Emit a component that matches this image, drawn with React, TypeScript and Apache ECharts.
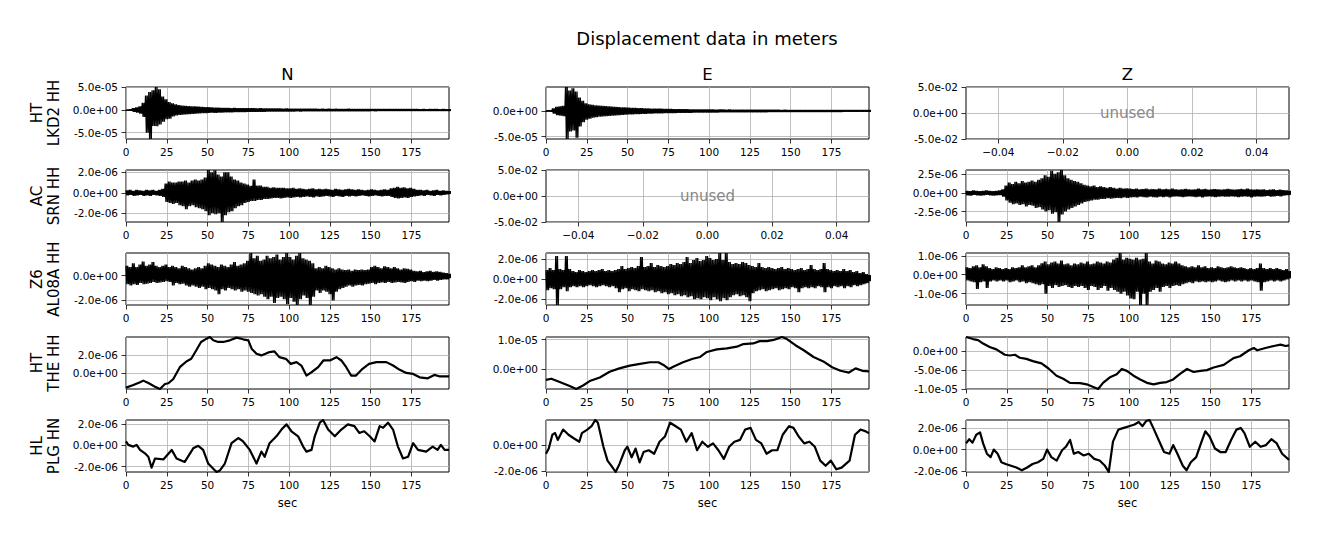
import React, { useEffect, useRef } from "react";
import * as echarts from "echarts";

// ---------------- texts ----------------
const FIG_TITLE = "Displacement data in meters";
const COLUMN_TITLES = ["N", "E", "Z"];
const ROW_LABELS = ["HT\nLKD2 HH", "AC\nSRN HH", "Z6\nAL08A HH", "HT\nTHE HH", "HL\nPLG HN"];
const X_LABEL = "sec";
const UNUSED_TEXT = "unused";

// ---------------- axes ----------------
const SEC_TICKS = [0, 25, 50, 75, 100, 125, 150, 175];
const SEC_MAX = 198;
const UNUSED_X_TICKS = [-0.04, -0.02, 0, 0.02, 0.04];
const UNUSED_Y_TICKS = [-0.05, 0, 0.05];
const UNUSED_LIMIT = 0.05;
const TICKS_5E5 = [-5e-5, 0, 5e-5];
const TICKS_2E6 = [-4e-6, -2e-6, 0, 2e-6, 4e-6];
const TICKS_25E7 = [-2.5e-6, 0, 2.5e-6];
const TICKS_1E6 = [-1e-6, 0, 1e-6];
const TICKS_1E5 = [-1e-5, 0, 1e-5];
const TICKS_5E6 = [-1e-5, -5e-6, 0, 5e-6];

// ---------------- data (micrometres) ----------------
const MICRO = 1e-6;
// noisy traces: upper / lower envelope read every 2 s; the trace swings between them
const ENV_STEP = 2;
const SWINGS_PER_STEP = 2;

const LKD2_N_UP = [1, 1.5, 4, 6, 8, 16, 32, 40, 44, 51,
  46, 30, 24, 18, 15, 13, 11, 10, 9.5, 9,
  8.5, 8, 7.5, 7, 6.5, 6.5, 6, 5.5, 5.5, 5,
  5, 5, 4.5, 4.8, 4.5, 4.2, 4.5, 4, 4.2, 4,
  3.8, 4, 3.6, 3.8, 3.5, 3.6, 3.4, 3.5, 3.2, 3.4,
  3.2, 3, 3.2, 3, 2.9, 3, 2.8, 3, 2.8, 2.7,
  2.8, 2.6, 2.8, 2.6, 2.7, 2.5, 2.6, 2.5, 2.7, 2.5,
  2.4, 2.6, 2.4, 2.5, 2.3, 2.5, 2.4, 2.3, 2.4, 2.3,
  2.2, 2.4, 2.2, 2.3, 2.2, 2.1, 2.3, 2.1, 2.2, 2.1,
  2, 2.2, 2, 2.1, 2, 2.1, 1.9, 2, 1.9, 1.8];
const LKD2_N_LO = [-1, -1.5, -4, -6, -8, -15, -50, -64, -35, -36,
  -32, -26, -20, -19, -14, -12, -11, -10, -9.5, -9,
  -8.5, -8, -7.5, -7, -7, -6.5, -6, -6, -5.5, -5.5,
  -5, -5, -5, -4.6, -4.8, -4.4, -4.5, -4.2, -4.2, -4,
  -4, -3.8, -3.8, -3.6, -3.6, -3.5, -3.4, -3.5, -3.3, -3.2,
  -3.2, -3.1, -3, -3.1, -2.9, -3, -2.9, -2.8, -2.9, -2.7,
  -2.7, -2.8, -2.6, -2.7, -2.6, -2.6, -2.5, -2.6, -2.5, -2.5,
  -2.5, -2.4, -2.5, -2.4, -2.4, -2.3, -2.4, -2.3, -2.3, -2.3,
  -2.2, -2.2, -2.3, -2.2, -2.1, -2.2, -2.1, -2.2, -2.1, -2,
  -2.1, -2, -2, -2.1, -1.9, -2, -1.9, -1.9, -1.8, -1.8];

const LKD2_E_UP = [1, 1.5, 5, 8, 9, 10, 46.7, 40, 44, 38,
  26, 20, 15, 13, 12, 11, 10.5, 10, 9.5, 9,
  8.5, 8, 7.5, 7.2, 7, 6.5, 6.2, 6, 5.6, 5.5,
  5.2, 5, 4.8, 4.6, 4.5, 4.4, 4.2, 4, 3.9, 3.8,
  3.7, 3.6, 3.5, 3.5, 3.3, 3.3, 3.2, 3.1, 3, 3,
  3, 2.9, 2.8, 2.9, 2.8, 2.7, 2.8, 2.6, 2.7, 2.6,
  2.6, 2.5, 2.6, 2.5, 2.4, 2.5, 2.4, 2.4, 2.3, 2.4,
  2.3, 2.3, 2.2, 2.3, 2.2, 2.2, 2.1, 2.2, 2.1, 2.1,
  2, 2.1, 2, 2, 2, 1.9, 2, 1.9, 1.9, 1.8,
  1.9, 1.8, 1.8, 1.8, 1.7, 1.8, 1.7, 1.7, 1.6, 1.6];
const LKD2_E_LO = [-1, -1.5, -5, -8, -9, -10, -54.5, -40, -38, -52,
  -30, -22, -17, -15, -13, -12, -11, -10.5, -10, -9.5,
  -9, -8.5, -8, -7.5, -7, -6.8, -6.5, -6.2, -6, -5.8,
  -5.5, -5.2, -5, -4.8, -4.6, -4.5, -4.3, -4.2, -4, -3.9,
  -3.8, -3.7, -3.6, -3.5, -3.4, -3.3, -3.2, -3.2, -3.1, -3,
  -3, -2.9, -2.9, -2.8, -2.8, -2.7, -2.7, -2.6, -2.6, -2.5,
  -2.5, -2.5, -2.4, -2.4, -2.4, -2.3, -2.3, -2.3, -2.2, -2.2,
  -2.2, -2.2, -2.1, -2.1, -2.1, -2, -2, -2, -2, -1.9,
  -1.9, -1.9, -1.9, -1.8, -1.8, -1.8, -1.8, -1.7, -1.7, -1.7,
  -1.7, -1.6, -1.6, -1.6, -1.6, -1.5, -1.5, -1.5, -1.5, -1.4];

const SRN_N_UP = [0.25, 0.3, 0.2, 0.3, 0.25, 0.2, 0.3, 0.25, 0.3, 0.2,
  0.3, 0.4, 0.9, 1.1, 1.0, 1.0, 1.1, 1.1, 1.2, 1.0,
  1.2, 1.3, 1.2, 1.3, 1.5, 2.23, 2.0, 2.2, 1.8, 1.6,
  2.0, 2.0, 1.6, 1.3, 1.2, 1.0, 0.9, 0.8, 0.7, 1.3,
  0.7, 0.7, 0.6, 0.6, 0.5, 0.55, 0.5, 0.5, 0.5, 0.45,
  0.45, 0.5, 0.4, 0.45, 0.4, 0.35, 0.4, 0.45, 0.35, 0.4,
  0.35, 0.4, 0.35, 0.3, 0.4, 0.35, 0.3, 0.35, 0.4, 0.35,
  0.3, 0.35, 0.3, 0.25, 0.3, 0.35, 0.3, 0.25, 0.3, 0.35,
  0.3, 0.45, 0.5, 0.6, 0.5, 0.55, 0.45, 0.5, 0.4, 0.3,
  0.3, 0.25, 0.3, 0.2, 0.25, 0.3, 0.2, 0.25, 0.2, 0.15];
const SRN_N_LO = [-0.25, -0.2, -0.3, -0.25, -0.2, -0.3, -0.25, -0.3, -0.2, -0.25,
  -0.3, -0.4, -0.9, -1.0, -1.1, -1.0, -1.2, -1.3, -1.6, -1.3,
  -1.2, -1.4, -1.5, -1.6, -1.8, -2.2, -2.0, -2.1, -2.0, -2.85,
  -2.2, -1.9, -1.8, -1.5, -1.3, -1.2, -1.0, -0.9, -0.8, -0.8,
  -0.7, -0.7, -0.6, -0.6, -0.55, -0.5, -0.5, -0.55, -0.5, -0.45,
  -0.5, -0.45, -0.4, -0.45, -0.4, -0.35, -0.4, -0.45, -0.35, -0.4,
  -0.35, -0.3, -0.35, -0.4, -0.3, -0.35, -0.4, -0.3, -0.35, -0.3,
  -0.35, -0.3, -0.25, -0.3, -0.35, -0.3, -0.25, -0.3, -0.35, -0.3,
  -0.3, -0.4, -0.5, -0.55, -0.5, -0.45, -0.5, -0.4, -0.35, -0.3,
  -0.25, -0.3, -0.2, -0.25, -0.3, -0.2, -0.25, -0.2, -0.15, -0.1];

const SRN_Z_UP = [0.3, 0.25, 0.35, 0.3, 0.25, 0.3, 0.35, 0.3, 0.25, 0.3,
  0.35, 0.5, 1.0, 1.4, 1.2, 1.5, 1.3, 1.6, 1.4, 1.5,
  1.7, 1.5, 1.8, 2.0, 2.4, 2.2, 3.0, 2.6, 2.8, 3.1,
  2.4, 2.0, 1.8, 1.6, 1.5, 1.3, 1.1, 1.0, 0.9, 1.0,
  0.8, 0.9, 0.8, 0.7, 0.8, 0.7, 0.6, 0.7, 0.6, 0.65,
  0.6, 0.55, 0.6, 0.5, 0.55, 0.6, 0.5, 0.55, 0.5, 0.6,
  0.5, 0.55, 0.5, 0.6, 0.5, 0.45, 0.5, 0.55, 0.5, 0.45,
  0.5, 0.6, 0.5, 0.55, 0.45, 0.5, 0.55, 0.5, 0.45, 0.5,
  0.55, 0.5, 0.45, 0.5, 0.55, 0.5, 0.6, 0.5, 0.45, 0.5,
  0.45, 0.5, 0.4, 0.45, 0.5, 0.4, 0.45, 0.4, 0.35, 0.3];
const SRN_Z_LO = [-0.3, -0.35, -0.25, -0.3, -0.35, -0.3, -0.25, -0.3, -0.35, -0.3,
  -0.3, -0.5, -1.0, -1.3, -1.5, -1.4, -1.6, -1.5, -1.8, -1.6,
  -1.7, -2.0, -1.9, -2.2, -2.5, -2.3, -2.8, -2.6, -3.9, -2.9,
  -2.5, -2.2, -2.0, -1.8, -1.6, -1.4, -1.2, -1.1, -1.0, -0.9,
  -0.9, -0.8, -0.8, -0.7, -0.75, -0.7, -0.65, -0.7, -0.6, -0.65,
  -0.6, -0.55, -0.6, -0.5, -0.55, -0.6, -0.5, -0.55, -0.6, -0.5,
  -0.55, -0.5, -0.6, -0.5, -0.45, -0.5, -0.55, -0.5, -0.45, -0.5,
  -0.55, -0.5, -0.6, -0.5, -0.45, -0.5, -0.55, -0.5, -0.45, -0.5,
  -0.5, -0.45, -0.5, -0.55, -0.5, -0.45, -0.5, -0.6, -0.5, -0.45,
  -0.5, -0.45, -0.4, -0.5, -0.45, -0.4, -0.45, -0.35, -0.3, -0.25];

const AL08A_N_UP = [0.8, 0.7, 1.0, 0.7, 0.9, 1.15, 0.8, 0.9, 1.1, 0.8,
  0.7, 0.8, 0.9, 0.7, 0.8, 0.7, 0.6, 0.8, 0.7, 0.6,
  0.5, 0.6, 0.7, 0.6, 0.8, 1.0, 0.9, 0.8, 0.7, 0.9,
  0.8, 0.7, 0.9, 1.1, 0.8, 0.9, 1.0, 1.2, 1.83, 1.4,
  1.6, 1.2, 1.3, 1.6, 1.4, 1.5, 1.7, 1.3, 1.5, 1.83,
  1.5, 1.3, 1.6, 1.83, 1.4, 1.3, 1.2, 1.0, 0.6, 0.7,
  0.6, 0.8, 0.7, 0.6, 0.5, 0.6, 0.5, 0.45, 0.5, 0.4,
  0.5, 0.45, 0.5, 0.45, 0.5, 0.7, 0.8, 0.7, 0.6, 0.75,
  0.7, 0.6, 0.7, 0.6, 0.5, 0.6, 0.55, 0.5, 0.4, 0.35,
  0.4, 0.3, 0.35, 0.4, 0.3, 0.35, 0.3, 0.25, 0.2, 0.15];
const AL08A_N_LO = [-0.7, -0.8, -0.7, -0.75, -0.6, -0.7, -0.65, -0.6, -0.5, -0.6,
  -0.55, -0.5, -0.45, -0.5, -0.8, -0.6, -0.7, -0.65, -0.8, -0.9,
  -0.8, -0.9, -1.0, -0.9, -1.1, -1.0, -1.1, -1.2, -1.5, -1.1,
  -1.2, -1.0, -1.1, -1.2, -1.1, -1.3, -1.2, -1.3, -1.4, -1.5,
  -1.6, -1.5, -1.7, -1.9, -1.7, -2.2, -1.8, -1.7, -1.9, -2.3,
  -1.8, -2.1, -2.37, -1.9, -1.6, -1.8, -2.37, -1.7, -1.2, -1.4,
  -1.2, -1.3, -1.5, -2.0, -1.3, -1.1, -1.0, -0.9, -0.8, -0.9,
  -0.8, -0.75, -0.8, -0.7, -0.65, -0.6, -0.7, -0.6, -0.55, -0.6,
  -0.5, -0.6, -0.55, -0.5, -0.55, -0.6, -0.5, -0.45, -0.5, -0.4,
  -0.45, -0.4, -0.45, -0.4, -0.35, -0.4, -0.35, -0.3, -0.3, -0.2];

const AL08A_E_UP = [0.9, 1.1, 0.9, 2.3, 1.0, 0.9, 2.3, 1.0, 0.8, 0.7,
  0.9, 0.8, 0.7, 0.8, 0.9, 0.8, 0.9, 1.0, 0.8, 0.9,
  0.8, 0.9, 1.0, 1.3, 1.0, 1.1, 1.2, 1.1, 1.3, 2.2,
  1.2, 1.3, 1.6, 1.2, 1.4, 1.3, 1.2, 1.3, 1.5, 1.4,
  1.6, 1.5, 1.7, 2.2, 1.6, 1.9, 2.1, 1.8, 1.9, 2.3,
  2.1, 1.9, 2.0, 2.6, 1.9, 2.6, 1.7, 1.5, 1.6, 1.5,
  1.7, 1.6, 1.4, 1.3, 1.2, 1.6, 1.2, 1.1, 1.2, 1.1,
  1.0, 1.1, 1.2, 1.0, 1.1, 1.0, 0.9, 1.0, 1.1, 0.9,
  1.0, 1.4, 1.0, 0.9, 1.0, 1.6, 1.0, 0.9, 0.8, 0.9,
  0.8, 1.0, 0.8, 0.9, 0.7, 0.8, 0.6, 0.7, 0.5, 0.4];
const AL08A_E_LO = [-1.1, -0.9, -1.0, -2.57, -1.0, -0.8, -1.2, -0.8, -0.7, -0.8,
  -0.7, -0.8, -0.7, -0.6, -0.7, -0.8, -0.7, -0.6, -0.7, -0.8,
  -0.7, -0.9, -1.3, -1.0, -0.9, -1.2, -1.0, -1.1, -1.2, -1.0,
  -1.1, -1.2, -1.1, -1.3, -1.2, -1.4, -1.3, -1.5, -1.4, -1.6,
  -1.5, -1.7, -1.6, -1.8, -1.7, -2.0, -1.9, -2.0, -1.8, -1.9,
  -2.1, -1.8, -2.0, -2.2, -1.9, -2.1, -1.8, -1.6, -1.5, -1.7,
  -1.6, -1.8, -2.2, -1.4, -1.2, -1.1, -1.0, -1.2, -1.1, -1.0,
  -0.9, -1.1, -1.0, -0.9, -1.0, -0.8, -0.9, -1.3, -0.9, -0.8,
  -0.9, -0.8, -0.9, -0.7, -0.8, -1.3, -0.8, -0.9, -0.7, -0.8,
  -0.7, -0.9, -0.7, -0.8, -0.6, -0.7, -0.6, -0.5, -0.4, -0.2];

const AL08A_Z_UP = [0.4, 0.35, 0.45, 0.5, 0.4, 0.55, 0.45, 0.35, 0.3, 0.4,
  0.35, 0.3, 0.35, 0.3, 0.4, 0.35, 0.4, 0.5, 0.4, 0.45,
  0.5, 0.4, 0.5, 0.6, 0.7, 0.55, 0.65, 0.7, 0.6, 0.75,
  0.55, 0.6, 0.5, 0.6, 0.55, 0.65, 0.6, 0.7, 0.55, 0.6,
  0.7, 0.65, 0.6, 0.7, 0.65, 0.8, 0.9, 1.15, 0.8, 0.9,
  0.85, 0.8, 0.9, 0.8, 0.85, 1.15, 0.7, 0.6, 0.75, 0.7,
  0.6, 0.55, 0.65, 0.6, 0.7, 0.6, 0.5, 0.45, 0.4, 0.45,
  0.4, 0.5, 0.4, 0.45, 0.35, 0.4, 0.35, 0.45, 0.4, 0.35,
  0.4, 0.45, 0.4, 0.35, 0.4, 0.35, 0.3, 0.35, 0.3, 0.35,
  0.6, 0.35, 0.3, 0.35, 0.3, 0.35, 0.3, 0.25, 0.3, 0.2];
const AL08A_Z_LO = [-0.3, -0.35, -0.4, -0.75, -0.4, -0.35, -0.7, -0.35, -0.3, -0.35,
  -0.3, -0.35, -0.3, -0.4, -0.35, -0.3, -0.4, -0.35, -0.45, -0.4,
  -0.45, -0.5, -0.55, -0.5, -1.0, -0.6, -0.7, -0.55, -0.65, -0.6,
  -0.55, -0.65, -0.7, -0.6, -0.65, -0.6, -0.7, -0.8, -0.6, -0.65,
  -0.8, -0.7, -0.6, -0.85, -0.7, -0.8, -0.9, -1.0, -0.9, -1.1,
  -1.25, -1.3, -0.9, -1.6, -1.0, -1.6, -0.9, -0.8, -0.7, -0.9,
  -0.65, -0.6, -0.7, -0.6, -0.55, -0.6, -0.5, -0.45, -0.4, -0.45,
  -0.35, -0.4, -0.35, -0.4, -0.35, -0.4, -0.35, -0.3, -0.35, -0.4,
  -0.35, -0.3, -0.35, -0.3, -0.35, -0.3, -0.35, -0.3, -0.35, -0.4,
  -0.85, -0.4, -0.35, -0.3, -0.35, -0.3, -0.35, -0.3, -0.25, -0.2];

// slow traces: time (s) / displacement (micrometres)
const THE_N_T = [0, 4.5, 8.6, 10.6, 13.7, 17.8, 20.8, 23.9, 26, 29, 33, 37, 40, 43, 46, 49.4, 51.4, 53.5, 56.5, 59.6, 63.7, 67.8, 71.8, 75, 77, 80, 83, 88, 91, 94, 98, 101, 104.5, 107.5, 110.6, 113.7, 117.8, 121, 125, 129, 132, 135, 138, 141, 145, 149, 153.5, 159.6, 163.7, 167.8, 171.8, 176, 180, 185, 189, 192, 198];
const THE_N_V = [-1.55, -1.27, -0.97, -0.79, -1.05, -1.45, -1.7, -1.16, -1.08, -0.61, 0.67, 1.29, 1.58, 2.49, 3.41, 3.77, 3.95, 3.59, 3.41, 3.41, 3.59, 3.88, 3.7, 3.59, 2.68, 2.13, 1.95, 2.31, 2.38, 1.76, 1.58, 1.03, 1.22, 0.85, -0.24, 0.12, 0.67, 1.4, 1.4, 1.76, 1.4, 0.67, -0.24, -0.24, 0.49, 1.03, 1.22, 1.22, 0.85, 0.38, 0.05, -0.06, -0.43, -0.54, -0.17, -0.32, -0.32];

const THE_E_T = [0, 3.3, 8.4, 14.5, 18.6, 22.7, 26.8, 33, 39, 45, 51.4, 57.6, 63.7, 68.9, 72, 75.4, 78, 84, 90, 94.5, 98.6, 104.7, 110.9, 117, 121, 127, 131, 135.5, 139.5, 144.7, 147.7, 152.9, 158, 164, 170, 175.4, 180.5, 185.7, 189.8, 193.9, 198];
const THE_E_V = [-3.7, -3.3, -4.4, -5.8, -6.8, -5.6, -4.1, -2.9, -0.93, 0.23, 1.16, 1.74, 2.3, 2.3, 1.4, 0, 0.8, 2.3, 3.5, 4.1, 5.8, 6.7, 7.0, 7.6, 8.5, 8.7, 9.5, 9.5, 9.9, 10.9, 10.2, 8.1, 6.4, 4.1, 2.6, 0.6, -0.6, -1.2, 0.23, -0.6, -0.8];

const THE_Z_T = [0, 4.3, 7.4, 10.5, 14.5, 18.6, 23.8, 26.8, 30, 33, 37, 41, 46.3, 50.4, 55.5, 59.6, 63.7, 69.9, 74, 78, 81, 84, 88, 92.4, 95.5, 98.6, 102.7, 106.8, 110.9, 115, 119, 123, 127, 131, 135.5, 139.5, 143.6, 147.7, 151.8, 158, 164, 168, 173.4, 176.4, 178.5, 183.6, 188.7, 192.8, 196, 198];
const THE_Z_V = [3.85, 3.3, 3.0, 2.1, 1.2, 0.55, -0.9, -1.1, -0.9, -1.7, -2.0, -2.6, -3.2, -4.5, -6.5, -7.3, -8.4, -8.5, -8.8, -9.5, -10.05, -8.4, -7.0, -6.1, -4.7, -5.2, -6.5, -7.5, -8.4, -8.8, -8.4, -8.2, -7.5, -6.1, -4.7, -5.5, -5.2, -5.0, -4.3, -3.6, -1.8, -1.3, 0.3, 0.9, 0.3, 0.9, 1.45, 1.8, 1.45, 1.6];

const PLG_N_T = [0, 1.4, 4.5, 6.5, 8.6, 11.6, 13.7, 15.7, 17.8, 22.9, 28, 31, 36, 41.2, 44.3, 47.3, 50.4, 53.5, 55.5, 57.6, 60.6, 64.7, 68.8, 71.8, 75.9, 80, 83, 85, 88, 92.2, 95.3, 98.4, 101.4, 105.5, 108.6, 110.6, 113.7, 115.7, 118.8, 120.8, 123.9, 128, 132, 136, 140, 143, 146, 149.4, 152.4, 155.5, 157.6, 160.6, 163.7, 166.7, 169.8, 172.9, 176, 179, 184, 188, 191, 193, 195.3, 198];
const PLG_N_V = [0.35, 0.03, -0.13, 0.03, -0.44, -0.76, -1.08, -2.1, -1.24, -1.33, -0.44, -1.24, -1.56, -0.29, -0.06, -0.44, -1.71, -2.19, -2.5, -2.35, -1.71, 0.19, 0.67, 0.35, -0.44, -1.71, -0.6, -1.08, 0.19, 0.83, 1.46, 1.94, 1.3, 0.83, -0.13, -0.6, -0.44, 0.83, 2.1, 2.35, 1.46, 0.83, 1.46, 1.94, 1.78, 1.14, 1.3, 0.83, 0.35, 1.78, 1.62, 2.1, 1.46, -0.13, -1.24, -1.08, 0.19, -0.44, -0.6, -0.13, -0.44, 0.03, -0.44, -0.44];

const PLG_E_T = [0, 1.7, 3.9, 5.6, 7.2, 10.5, 13.8, 17, 20.4, 22, 25.3, 27.9, 30.2, 31.8, 35.2, 37.7, 40.1, 42.7, 45, 48.3, 49.9, 52.5, 54.9, 57.4, 59.8, 63, 66.3, 69.6, 72.9, 76.1, 79.5, 82.7, 86, 89.3, 92.6, 95.8, 99.2, 102.4, 105.7, 109, 112.3, 115.5, 118.9, 122.1, 125.4, 128.7, 132, 135.2, 138.6, 141.8, 145.1, 149, 151.7, 154.9, 158.3, 161.5, 164.8, 168.1, 171.4, 174.6, 178, 181.2, 186.1, 189.4, 192.8, 196, 198];
const PLG_E_V = [-0.64, -0.24, 0.83, 0.96, 0.43, 1.23, 0.83, 0.56, 0.29, 0.96, 1.23, 1.49, 1.97, 1.76, -0.1, -1.17, -1.57, -2.05, -1.44, -0.37, -0.1, -0.91, -0.24, -1.31, -0.51, -0.37, -0.64, 0.29, 0.69, 1.76, 1.49, 1.23, 0.29, 0.96, -0.37, 0.29, -0.1, 0.16, -0.37, -1.04, -0.1, 0.29, 0.43, 1.23, 1.36, 0.43, 0.16, -0.64, -0.37, -0.37, 0.83, 1.49, 1.36, 0.69, 0.16, 0.29, -0.1, -1.17, -1.57, -1.17, -1.84, -1.71, -1.17, 0.83, 1.23, 1.09, 0.95];

const PLG_Z_T = [0, 2, 4, 6.3, 8.6, 10.5, 12.8, 15.1, 17, 19.4, 21.7, 24.3, 27.6, 30.9, 34.2, 37.5, 40.8, 44.1, 47.4, 49.7, 52.3, 55.6, 58.9, 61.2, 63.8, 66.1, 68.8, 72, 75.3, 78.6, 81.9, 85.2, 87.5, 90.1, 93.4, 96.7, 100, 103.3, 105.9, 108.2, 110.5, 112.5, 114.8, 118.1, 121.4, 124.7, 127, 129.6, 132.9, 135.2, 137.8, 141.1, 144.4, 146.7, 149.3, 152.6, 155.9, 159.2, 162.5, 165.8, 168.4, 170.7, 174, 177.3, 180.6, 183.9, 187.2, 190.5, 193.8, 198];
const PLG_Z_V = [0.58, 0.97, 0.65, 1.39, 1.61, 0.58, -0.39, -0.71, 0, -0.39, -1.19, -1.35, -1.52, -1.68, -1.94, -1.68, -1.35, -1.19, -0.87, 0, -0.71, -1.03, -0.06, 0.26, 0.9, -0.39, -0.23, -0.55, -0.39, -0.87, -1.03, -1.52, -2.1, 0.74, 1.87, 2.03, 2.19, 2.35, 2.58, 2.19, 2.68, 2.77, 2.03, 0.9, -0.23, -0.39, 0.42, -0.39, -1.52, -1.94, -1.19, -0.71, 0.74, 1.71, 1.23, 0.1, -0.23, -0.23, 0.9, 1.87, 2.03, 1.55, 0.26, 0.74, 0.26, 0.42, 0.97, 0.58, -0.39, -0.97];

// ---------------- panel table ----------------
type Panel =
  | { kind: "env"; up: number[]; lo: number[]; ticks: number[] }
  | { kind: "line"; t: number[]; v: number[]; ticks: number[] }
  | { kind: "unused" };

const UNUSED: Panel = { kind: "unused" };
const PANELS: Panel[][] = [
  [{ kind: "env", up: LKD2_N_UP, lo: LKD2_N_LO, ticks: TICKS_5E5 }, { kind: "env", up: LKD2_E_UP, lo: LKD2_E_LO, ticks: TICKS_5E5 }, UNUSED],
  [{ kind: "env", up: SRN_N_UP, lo: SRN_N_LO, ticks: TICKS_2E6 }, UNUSED, { kind: "env", up: SRN_Z_UP, lo: SRN_Z_LO, ticks: TICKS_25E7 }],
  [{ kind: "env", up: AL08A_N_UP, lo: AL08A_N_LO, ticks: TICKS_2E6 }, { kind: "env", up: AL08A_E_UP, lo: AL08A_E_LO, ticks: TICKS_2E6 }, { kind: "env", up: AL08A_Z_UP, lo: AL08A_Z_LO, ticks: TICKS_1E6 }],
  [{ kind: "line", t: THE_N_T, v: THE_N_V, ticks: TICKS_2E6 }, { kind: "line", t: THE_E_T, v: THE_E_V, ticks: TICKS_1E5 }, { kind: "line", t: THE_Z_T, v: THE_Z_V, ticks: TICKS_5E6 }],
  [{ kind: "line", t: PLG_N_T, v: PLG_N_V, ticks: TICKS_2E6 }, { kind: "line", t: PLG_E_T, v: PLG_E_V, ticks: TICKS_2E6 }, { kind: "line", t: PLG_Z_T, v: PLG_Z_V, ticks: TICKS_2E6 }],
];

// ---------------- layout ----------------
const FONT = '"DejaVu Sans", "Liberation Sans", sans-serif';
const COL_LEFT = [126, 546, 966];
const ROW_TOP = [87, 170, 253, 337, 420];
const PANEL_W = 323;
const PANEL_H = 52;
const TICK_FONT = 10.5;
const GRID_COLOR = "#b0b0b0";

function sci(v: number): string {
  if (Math.abs(v) < 1e-30) return "0.0e+00";
  const s = v.toExponential(1);
  const m = s.match(/^(-?\d\.\d)e([+-])(\d+)$/);
  if (!m) return s;
  return m[1] + "e" + m[2] + m[3].padStart(2, "0");
}
function fixed2(v: number): string {
  const r = Math.round(v * 100) / 100;
  if (Math.abs(r) < 1e-9) return "0.00";
  return (r < 0 ? "\u2212" : "") + Math.abs(r).toFixed(2);
}

function buildOption() {
  const grid: any[] = [];
  const xAxis: any[] = [];
  const yAxis: any[] = [];
  const series: any[] = [];
  const graphic: any[] = [];
  const text = (t: string, x: number, y: number, size: number, extra: any = {}) => ({
    type: "text", x, y, z: 100, rotation: extra.rotation || 0,
    style: { text: t, fill: extra.fill || "#000", font: `${size}px ${FONT}`, textAlign: "center", textVerticalAlign: "middle", align: "center", verticalAlign: "middle", lineHeight: extra.lineHeight },
  });

  graphic.push(text(FIG_TITLE, 707, 38, 18));
  COLUMN_TITLES.forEach((t, c) => graphic.push(text(t, COL_LEFT[c] + PANEL_W / 2, 74, 16.5)));
  ROW_LABELS.forEach((t, r) => graphic.push(text(t, 45, ROW_TOP[r] + PANEL_H / 2, 15, { rotation: Math.PI / 2, lineHeight: 17 })));
  COL_LEFT.forEach((l) => graphic.push(text(X_LABEL, l + PANEL_W / 2, 503, 11.5)));

  let k = 0;
  PANELS.forEach((row, r) => {
    row.forEach((p, c) => {
      grid.push({ left: COL_LEFT[c], top: ROW_TOP[r], width: PANEL_W, height: PANEL_H, show: true, borderColor: "#000", borderWidth: 1, backgroundColor: "transparent", containLabel: false });
      const tickStyle = { show: true, inside: false, length: 4.5, lineStyle: { color: "#000", width: 0.8 } };
      const labelStyle = { show: true, color: "#000", fontSize: TICK_FONT, fontFamily: FONT };
      const split = { show: true, lineStyle: { color: GRID_COLOR, width: 0.8 } };
      const line = { show: false, onZero: false };
      if (p.kind === "unused") {
        xAxis.push({ type: "value", gridIndex: k, position: "bottom", min: -UNUSED_LIMIT, max: UNUSED_LIMIT, axisLine: line, axisTick: { ...tickStyle, customValues: UNUSED_X_TICKS }, axisLabel: { ...labelStyle, margin: 7, customValues: UNUSED_X_TICKS, formatter: fixed2 }, splitLine: split });
        yAxis.push({ type: "value", gridIndex: k, position: "left", min: -UNUSED_LIMIT, max: UNUSED_LIMIT, axisLine: line, axisTick: { ...tickStyle, customValues: UNUSED_Y_TICKS }, axisLabel: { ...labelStyle, margin: 8, customValues: UNUSED_Y_TICKS, formatter: sci }, splitLine: split });
        graphic.push(text(UNUSED_TEXT, COL_LEFT[c] + PANEL_W / 2, ROW_TOP[r] + PANEL_H / 2, 15, { fill: "#888888" }));
      } else {
        let data: number[][] = [];
        let width = 1.35;
        if (p.kind === "env") {
          const sub = ENV_STEP / SWINGS_PER_STEP;
          p.up.forEach((u, i) => {
            for (let j = 0; j < SWINGS_PER_STEP; j++) {
              data.push([i * ENV_STEP + j * sub, u * MICRO]);
              data.push([i * ENV_STEP + j * sub + sub / 2, p.lo[i] * MICRO]);
            }
          });
        } else {
          data = p.t.map((t, i) => [t, p.v[i] * MICRO]);
          width = 2.2;
        }
        const ys = data.map((d) => d[1]);
        const ymin = Math.min(...ys);
        const ymax = Math.max(...ys);
        const ticks = p.ticks.filter((v) => v >= ymin - 1e-12 && v <= ymax + 1e-12);
        xAxis.push({ type: "value", gridIndex: k, position: "bottom", min: 0, max: SEC_MAX, axisLine: line, axisTick: { ...tickStyle, customValues: SEC_TICKS }, axisLabel: { ...labelStyle, margin: 7, customValues: SEC_TICKS, formatter: (v: number) => String(v) }, splitLine: split });
        yAxis.push({ type: "value", gridIndex: k, position: "left", min: ymin, max: ymax, axisLine: line, axisTick: { ...tickStyle, customValues: ticks }, axisLabel: { ...labelStyle, margin: 8, customValues: ticks, formatter: sci }, splitLine: split });
        series.push({ type: "line", xAxisIndex: k, yAxisIndex: k, data, showSymbol: false, symbol: "none", silent: true, clip: true, lineStyle: { color: "#000", width, join: p.kind === "env" ? "bevel" : "round" }, z: 5 });
      }
      k++;
    });
  });

  return { animation: false, backgroundColor: "#fff", grid, xAxis, yAxis, series, graphic, tooltip: { show: false } };
}

export default function App() {
  const ref = useRef<HTMLDivElement>(null);
  useEffect(() => {
    if (!ref.current) return;
    const chart = echarts.init(ref.current, null, { renderer: "svg" });
    chart.setOption(buildOption() as any);
    return () => chart.dispose();
  }, []);
  return <div ref={ref} style={{ position: "absolute", left: 0, top: 0, width: 1318, height: 540 }} />;
}
